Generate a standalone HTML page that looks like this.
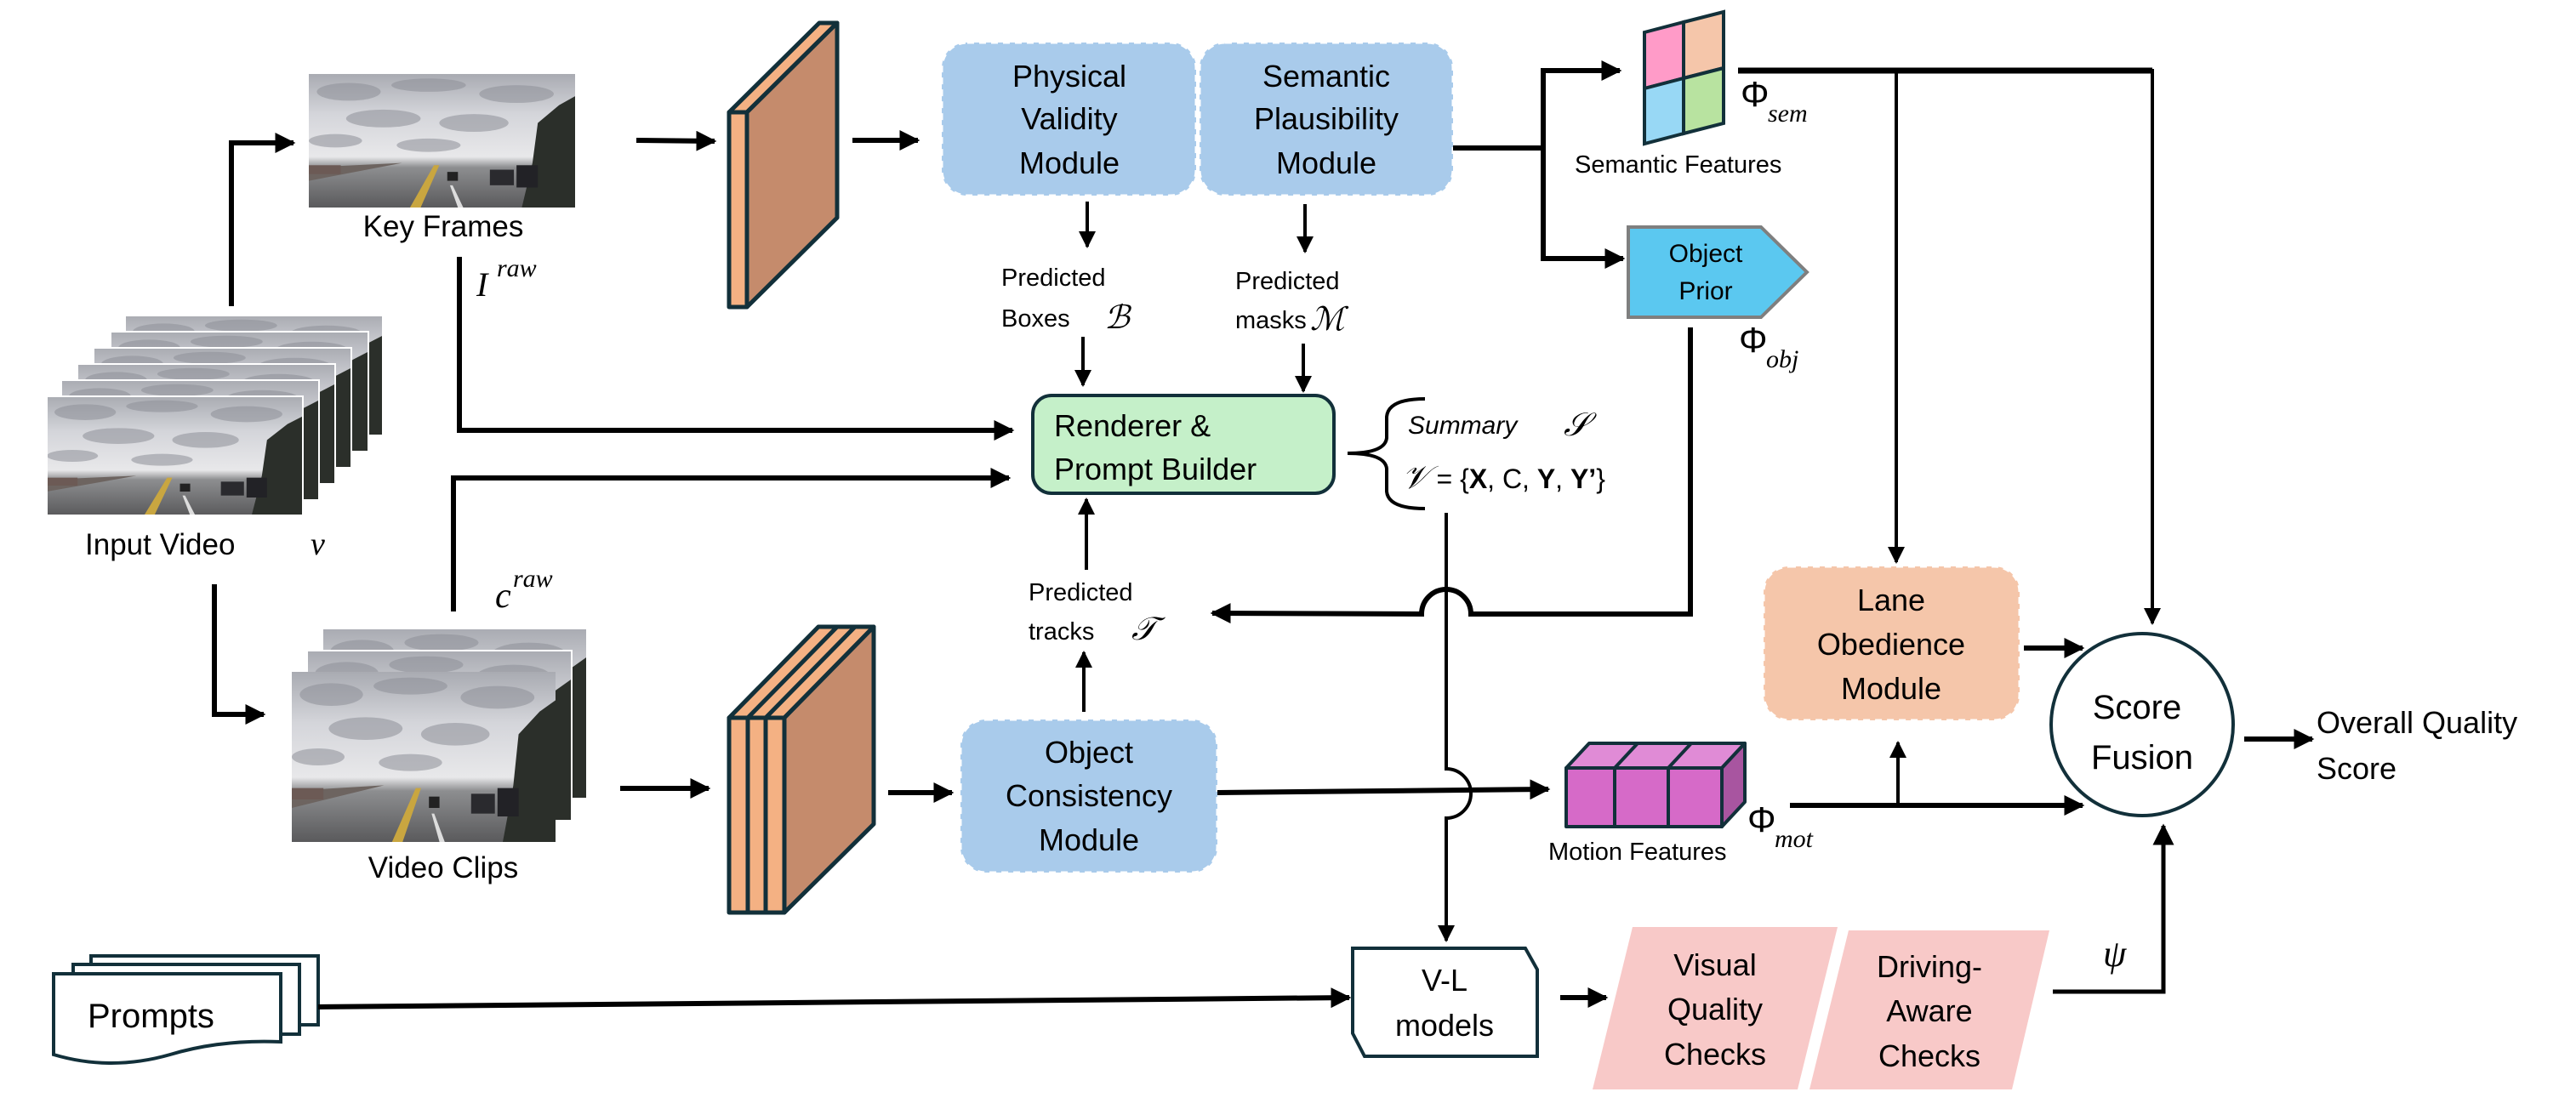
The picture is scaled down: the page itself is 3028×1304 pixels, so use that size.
<!DOCTYPE html>
<html><head><meta charset="utf-8"><style>
html,body{margin:0;padding:0;background:#fff;}
svg{display:block;}
text{font-family:"Liberation Sans",sans-serif;fill:#000;}
.m{font-family:"Liberation Serif",serif;font-style:italic;}
</style></head><body>
<svg width="3028" height="1304" viewBox="0 0 3028 1304" xmlns="http://www.w3.org/2000/svg">
<defs>
<linearGradient id="sky" x1="0" y1="0" x2="0" y2="1">
<stop offset="0" stop-color="#a9abb2"/><stop offset="0.3" stop-color="#d4d5da"/><stop offset="0.62" stop-color="#e8e8ea"/><stop offset="0.7" stop-color="#8d8e90"/><stop offset="1" stop-color="#5a5a5c"/>
</linearGradient>
<symbol id="ph" viewBox="0 0 100 60" preserveAspectRatio="none">
<rect width="100" height="60" fill="url(#sky)" stroke="none"/>
<g fill="#8e9098" opacity=".55" stroke="none">
<ellipse cx="15" cy="8" rx="12" ry="4"/><ellipse cx="45" cy="5" rx="14" ry="3"/><ellipse cx="78" cy="9" rx="14" ry="4"/>
<ellipse cx="28" cy="20" rx="14" ry="4"/><ellipse cx="62" cy="22" rx="13" ry="4"/><ellipse cx="10" cy="30" rx="10" ry="3"/><ellipse cx="45" cy="32" rx="12" ry="3"/>
</g>
<g stroke="none">
<polygon points="84,40 86,22 90,18 94,14 100,10 100,60 80,60" fill="#2b2f2a"/>
<polygon points="0,42 35,40 0,48" fill="#6d6460"/>
<rect x="0" y="41" width="12" height="4" fill="#6c5a55"/>
<polygon points="38,60 47,41 49,41 42,60" fill="#c9a640"/>
<polygon points="56,60 53,50 54,50 58,60" fill="#ddd"/>
<rect x="52" y="44" width="4" height="4" fill="#222"/>
<rect x="68" y="43" width="9" height="7" fill="#2a2a2e"/>
<rect x="78" y="41" width="8" height="10" fill="#222226"/>
</g>
</symbol>
<marker id="ah" viewBox="0 0 10 10" refX="9" refY="5" markerWidth="4" markerHeight="4" orient="auto"><path d="M0,0L10,5L0,10z" fill="#000"/></marker>
<marker id="as" viewBox="0 0 10 10" refX="9" refY="5" markerWidth="5" markerHeight="5" orient="auto"><path d="M0,0L10,5L0,10z" fill="#000"/></marker>
</defs>

<use href="#ph" x="363" y="87" width="313" height="157"/>
<text x="521" y="278" font-size="35" text-anchor="middle">Key Frames</text>
<text x="560" y="348" font-size="40" class="m">I</text><text x="584" y="325" font-size="30" class="m">raw</text>

<g>
<use href="#ph" x="147" y="371" width="303" height="141"/><rect x="147" y="371" width="303" height="141" fill="none" stroke="#fff" stroke-width="2"/>
<use href="#ph" x="130" y="390" width="303" height="141"/><rect x="130" y="390" width="303" height="141" fill="none" stroke="#fff" stroke-width="2"/>
<use href="#ph" x="110" y="409" width="303" height="141"/><rect x="110" y="409" width="303" height="141" fill="none" stroke="#fff" stroke-width="2"/>
<use href="#ph" x="91" y="428" width="303" height="141"/><rect x="91" y="428" width="303" height="141" fill="none" stroke="#fff" stroke-width="2"/>
<use href="#ph" x="72" y="447" width="303" height="141"/><rect x="72" y="447" width="303" height="141" fill="none" stroke="#fff" stroke-width="2"/>
<use href="#ph" x="55" y="466" width="301" height="140"/><rect x="55" y="466" width="301" height="140" fill="none" stroke="#fff" stroke-width="2"/>
</g>
<text x="100" y="652" font-size="35">Input Video</text>
<text x="365" y="652" font-size="38" class="m">v</text>

<polyline points="272,360 272,168 345,168" fill="none" stroke="#000" stroke-width="6" marker-end="url(#ah)"/>
<polyline points="252,687 252,840 310,840" fill="none" stroke="#000" stroke-width="6" marker-end="url(#ah)"/>

<line x1="748" y1="165" x2="840" y2="166" stroke="#000" stroke-width="6" marker-end="url(#ah)"/>
<g stroke="#12303a" stroke-width="5" stroke-linejoin="round">
<polygon points="857,132 878,132 984,27 963,27" fill="#F4B183"/>
<polygon points="878,132 984,27 984,256 878,361" fill="#C58B6C"/>
<rect x="857" y="132" width="21" height="229" fill="#F4B183"/>
</g>
<line x1="1002" y1="165" x2="1079" y2="165" stroke="#000" stroke-width="6" marker-end="url(#ah)"/>

<rect x="1107" y="50" width="299" height="180" rx="30" fill="#A9CBEB" stroke="#fff" stroke-width="3" stroke-dasharray="8,6"/>
<rect x="1410" y="50" width="298" height="180" rx="30" fill="#A9CBEB" stroke="#fff" stroke-width="3" stroke-dasharray="8,6"/>
<g font-size="36" text-anchor="middle">
<text x="1257" y="102">Physical</text><text x="1257" y="152">Validity</text><text x="1257" y="204">Module</text>
<text x="1559" y="102">Semantic</text><text x="1559" y="152">Plausibility</text><text x="1559" y="204">Module</text>
</g>
<line x1="1278" y1="237" x2="1278" y2="290" stroke="#000" stroke-width="4" marker-end="url(#as)"/>
<line x1="1534" y1="240" x2="1534" y2="296" stroke="#000" stroke-width="4" marker-end="url(#as)"/>
<g font-size="29">
<text x="1177" y="336">Predicted</text><text x="1177" y="384">Boxes</text>
<text x="1452" y="340">Predicted</text><text x="1452" y="386">masks</text>
</g>
<text x="1298" y="386" font-size="38" class="m">ℬ</text>
<text x="1540" y="388" font-size="38" class="m">ℳ</text>
<line x1="1273" y1="396" x2="1273" y2="453" stroke="#000" stroke-width="4" marker-end="url(#as)"/>
<line x1="1532" y1="404" x2="1532" y2="460" stroke="#000" stroke-width="4" marker-end="url(#as)"/>

<rect x="1214" y="465" width="354" height="115" rx="22" fill="#C5F0C9" stroke="#12303a" stroke-width="4"/>
<text x="1239" y="513" font-size="36">Renderer &amp;</text>
<text x="1239" y="564" font-size="36">Prompt Builder</text>
<polyline points="540,302 540,506 1190,506" fill="none" stroke="#000" stroke-width="6" marker-end="url(#ah)"/>
<polyline points="533,719 533,562 1186,562" fill="none" stroke="#000" stroke-width="6" marker-end="url(#ah)"/>
<text x="582" y="714" font-size="42" class="m">c</text><text x="603" y="690" font-size="30" class="m">raw</text>

<path d="M1675,469 Q1632,469 1630,490 L1630,515 Q1628,533 1584,533 Q1628,533 1630,551 L1630,578 Q1632,598 1675,598" fill="none" stroke="#000" stroke-width="4"/>
<text x="1655" y="510" font-size="30" font-style="italic">Summary</text>
<text x="1838" y="512" font-size="38" class="m">𝒮</text>
<text x="1648" y="574" font-size="32"><tspan class="m" font-size="38">𝒱</tspan> = {<tspan font-weight="bold">X</tspan>, C, <tspan font-weight="bold">Y</tspan>, <tspan font-weight="bold">Y’</tspan>}</text>

<path d="M1700,603 L1700,904 A29,29 0 0 1 1700,962 L1700,1106" fill="none" stroke="#000" stroke-width="4" marker-end="url(#as)"/>

<polyline points="1708,174 1814,174" fill="none" stroke="#000" stroke-width="6"/>
<polyline points="1880,83 1814,83 1814,304 1880,304" fill="none" stroke="#000" stroke-width="6"/>
<line x1="1878" y1="83" x2="1904" y2="83" stroke="#000" stroke-width="6" marker-end="url(#ah)"/>
<line x1="1878" y1="304" x2="1908" y2="304" stroke="#000" stroke-width="6" marker-end="url(#ah)"/>
<g stroke="#12303a" stroke-width="4">
<polygon points="1933,38 1979,26 1979,92 1933,104" fill="#FF9BC8"/>
<polygon points="1979,26 2026,14 2026,80 1979,92" fill="#F5C6AA"/>
<polygon points="1933,104 1979,92 1979,157 1933,169" fill="#98D8F5"/>
<polygon points="1979,92 2026,80 2026,145 1979,157" fill="#B8E3A0"/>
</g>
<text x="2046" y="125" font-size="42" font-family="Liberation Serif">Φ</text><text x="2078" y="143" font-size="30" class="m">sem</text>
<text x="1851" y="203" font-size="29">Semantic Features</text>

<polygon points="1914,267 2070,267 2124,320 2070,373 1914,373" fill="#5BC8F0" stroke="#7f7f7f" stroke-width="4"/>
<text x="2005" y="308" font-size="30" text-anchor="middle">Object</text>
<text x="2005" y="352" font-size="30" text-anchor="middle">Prior</text>
<text x="2044" y="414" font-size="42" font-family="Liberation Serif">Φ</text><text x="2076" y="432" font-size="30" class="m">obj</text>
<path d="M1987,385 L1987,722 L1729,722 A29,29 0 0 0 1671,722 L1425,721" fill="none" stroke="#000" stroke-width="6" marker-end="url(#ah)"/>

<polyline points="2043,83 2530,83 2530,733" fill="none" stroke="#000" stroke-width="4" marker-end="url(#as)"/>
<line x1="2229" y1="83" x2="2229" y2="661" stroke="#000" stroke-width="4" marker-end="url(#as)"/>
<line x1="2043" y1="83" x2="2530" y2="83" stroke="#000" stroke-width="7"/>

<g font-size="29"><text x="1209" y="706">Predicted</text><text x="1209" y="752">tracks</text></g>
<text x="1330" y="752" font-size="38" class="m">𝒯</text>
<line x1="1274" y1="837" x2="1274" y2="767" stroke="#000" stroke-width="4" marker-end="url(#as)"/>
<line x1="1277" y1="670" x2="1277" y2="587" stroke="#000" stroke-width="4" marker-end="url(#as)"/>

<g>
<use href="#ph" x="379" y="739" width="311" height="200"/><rect x="379" y="739" width="311" height="200" fill="none" stroke="#fff" stroke-width="2"/>
<use href="#ph" x="361" y="765" width="311" height="200"/><rect x="361" y="765" width="311" height="200" fill="none" stroke="#fff" stroke-width="2"/>
<use href="#ph" x="343" y="790" width="310" height="200"/>
</g>
<text x="521" y="1032" font-size="35" text-anchor="middle">Video Clips</text>
<line x1="729" y1="927" x2="833" y2="927" stroke="#000" stroke-width="6" marker-end="url(#ah)"/>
<g stroke="#12303a" stroke-width="5" stroke-linejoin="round">
<polygon points="857,844 922,844 1027,737 962,737" fill="#F4B183"/>
<line x1="879" y1="844" x2="984" y2="737"/><line x1="900" y1="844" x2="1005" y2="737"/>
<polygon points="922,844 1027,737 1027,969 922,1073" fill="#C58B6C"/>
<rect x="857" y="844" width="65" height="229" fill="#F4B183"/>
<line x1="879" y1="844" x2="879" y2="1073"/><line x1="900" y1="844" x2="900" y2="1073"/>
</g>
<line x1="1044" y1="932" x2="1119" y2="932" stroke="#000" stroke-width="6" marker-end="url(#ah)"/>

<rect x="1129" y="846" width="302" height="180" rx="30" fill="#A9CBEB" stroke="#fff" stroke-width="3" stroke-dasharray="8,6"/>
<g font-size="36" text-anchor="middle"><text x="1280" y="897">Object</text><text x="1280" y="948">Consistency</text><text x="1280" y="1000">Module</text></g>
<line x1="1431" y1="932" x2="1820" y2="928" stroke="#000" stroke-width="6" marker-end="url(#ah)"/>

<g stroke="#12303a" stroke-width="4" stroke-linejoin="round">
<polygon points="1841,903 1868,874 2051,874 2024,903" fill="#E08BD6"/>
<polygon points="2024,903 2051,874 2051,943 2024,972" fill="#A855A0"/>
<rect x="1841" y="903" width="183" height="69" fill="#D66AC8"/>
<line x1="1898" y1="903" x2="1898" y2="972"/><line x1="1961" y1="903" x2="1961" y2="972"/>
<line x1="1898" y1="903" x2="1925" y2="874"/><line x1="1961" y1="903" x2="1988" y2="874"/>
</g>
<text x="1820" y="1011" font-size="29">Motion Features</text>
<text x="2054" y="978" font-size="42" font-family="Liberation Serif">Φ</text><text x="2086" y="996" font-size="30" class="m">mot</text>
<line x1="2104" y1="947" x2="2448" y2="947" stroke="#000" stroke-width="6" marker-end="url(#ah)"/>
<line x1="2231" y1="947" x2="2231" y2="873" stroke="#000" stroke-width="4" marker-end="url(#as)"/>

<rect x="2073" y="666" width="301" height="181" rx="30" fill="#F5C6AA" stroke="#fff" stroke-width="3" stroke-dasharray="8,6"/>
<g font-size="36" text-anchor="middle"><text x="2223" y="718">Lane</text><text x="2223" y="770">Obedience</text><text x="2223" y="822">Module</text></g>
<line x1="2379" y1="762" x2="2448" y2="762" stroke="#000" stroke-width="6" marker-end="url(#ah)"/>

<circle cx="2518" cy="852" r="107" fill="#fff" stroke="#12303a" stroke-width="4"/>
<text x="2512" y="845" font-size="40" text-anchor="middle">Score</text>
<text x="2518" y="904" font-size="40" text-anchor="middle">Fusion</text>
<line x1="2638" y1="869" x2="2718" y2="869" stroke="#000" stroke-width="6" marker-end="url(#ah)"/>
<text x="2723" y="862" font-size="36">Overall Quality</text>
<text x="2723" y="916" font-size="36">Score</text>

<g stroke="#12303a" stroke-width="4" fill="#fff">
<path d="M107,1124 L374,1124 L374,1205 L107,1205 Z"/>
<path d="M86,1134 L352,1134 L352,1216 L86,1216 Z"/>
<path d="M63,1145 L330,1145 L330,1225 Q260,1222 200,1240 Q130,1260 63,1240 Z"/>
</g>
<text x="103" y="1208" font-size="40">Prompts</text>
<line x1="374" y1="1184" x2="1586" y2="1173" stroke="#000" stroke-width="6" marker-end="url(#ah)"/>

<polygon points="1590,1115 1793,1115 1807,1140 1807,1242 1604,1242 1590,1215" fill="#fff" stroke="#12303a" stroke-width="4"/>
<text x="1698" y="1165" font-size="36" text-anchor="middle">V-L</text>
<text x="1698" y="1218" font-size="36" text-anchor="middle">models</text>
<line x1="1834" y1="1173" x2="1888" y2="1173" stroke="#000" stroke-width="6" marker-end="url(#ah)"/>

<polygon points="1919,1090 2160,1090 2113,1281 1872,1281" fill="#F8C9C8"/>
<polygon points="2173,1094 2409,1094 2365,1281 2127,1281" fill="#F8C9C8"/>
<g font-size="36" text-anchor="middle">
<text x="2016" y="1147">Visual</text><text x="2016" y="1199">Quality</text><text x="2016" y="1252">Checks</text>
<text x="2268" y="1149">Driving-</text><text x="2268" y="1201">Aware</text><text x="2268" y="1254">Checks</text>
</g>
<polyline points="2413,1166 2543,1166 2543,971" fill="none" stroke="#000" stroke-width="5" marker-end="url(#as)"/>
<text x="2472" y="1136" font-size="44" class="m">ψ</text>
</svg>
</body></html>
